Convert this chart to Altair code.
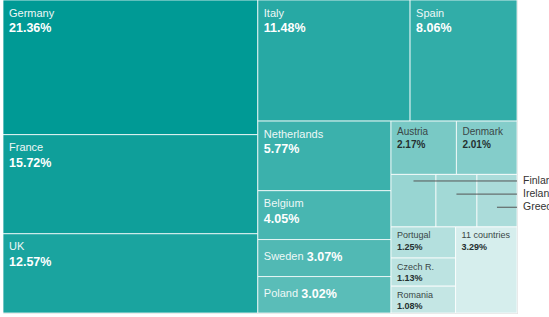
import altair as alt
import pandas as pd

# ---- data -------------------------------------------------------------
countries = ["Germany", "France", "UK", "Italy", "Spain", "Netherlands",
             "Belgium", "Sweden", "Poland", "Austria", "Denmark", "Finland",
             "Ireland", "Greece", "Portugal", "Czech R.", "Romania",
             "11 countries"]
shares = [21.36, 15.72, 12.57, 11.48, 8.06, 5.77, 4.05, 3.07, 3.02, 2.17,
          2.01, 1.47, 1.34, 1.31, 1.25, 1.13, 1.08, 3.29]
labels = ["21.36%", "15.72%", "12.57%", "11.48%", "8.06%", "5.77%", "4.05%",
          "3.07%", "3.02%", "2.17%", "2.01%", "", "", "", "1.25%", "1.13%",
          "1.08%", "3.29%"]

# ---- styles -----------------------------------------------------------
colors = ["#009a95", "#0f9f9a", "#1aa49f", "#27a9a4", "#31ada8", "#3bb1ac",
          "#48b6b1", "#51b9b4", "#5abdb8", "#79c9c5", "#84cdca", "#98d5d2",
          "#a2d9d6", "#abdcda", "#b4e0de", "#bce3e1", "#c4e6e4", "#d6eeed"]

# slice-and-dice structure of the treemap ("h": left-to-right, "v": top-to-bottom)
tree = ("h", [
    ("v", ["Germany", "France", "UK"]),
    ("v", [
        ("h", ["Italy", "Spain"]),
        ("h", [
            ("v", ["Netherlands", "Belgium", "Sweden", "Poland"]),
            ("v", [
                ("h", ["Austria", "Denmark"]),
                ("h", ["Finland", "Ireland", "Greece"]),
                ("h", [("v", ["Portugal", "Czech R.", "Romania"]), "11 countries"]),
            ]),
        ]),
    ]),
])

val = dict(zip(countries, shares))


def size(node):
    if isinstance(node, str):
        return val[node]
    return sum(size(c) for c in node[1])


cells = {}


def place(node, x0, y0, x1, y1):
    if isinstance(node, str):
        cells[node] = (x0, y0, x1, y1)
        return
    orient, kids = node
    tot = sum(size(k) for k in kids)
    pos = x0 if orient == "h" else y0
    for k in kids:
        f = size(k) / tot
        if orient == "h":
            nxt = pos + f * (x1 - x0)
            place(k, pos, y0, nxt, y1)
        else:
            nxt = pos + f * (y1 - y0)
            place(k, x0, pos, x1, nxt)
        pos = nxt


place(tree, 0.0, 0.0, 1.0, 1.0)

rows = []
for i, c in enumerate(countries):
    x0, y0, x1, y1 = cells[c]
    rows.append(dict(name=c, share=shares[i], pct=labels[i],
                     x0=x0, x1=x1, y0=y0, y1=y1,
                     xc=(x0 + x1) / 2, yc=(y0 + y1) / 2))
df = pd.DataFrame(rows)

outside = ["Finland", "Ireland", "Greece"]
for j, c in enumerate(outside):
    r = df.name == c
    df.loc[r, "ly"] = df.loc[r, "y0"] + (2 * j + 1) / 8 * (df.loc[r, "y1"] - df.loc[r, "y0"])
df["right"] = 1.0

xs = alt.Scale(domain=[0, 1], nice=False, zero=False)
ys = alt.Scale(domain=[0, 1], nice=False, zero=False, reverse=True)
FONT = "Liberation Sans"

base = alt.Chart(df)

rects = base.mark_rect(stroke="white", strokeWidth=1, strokeOpacity=0.75).encode(
    x=alt.X("x0:Q", scale=xs, axis=None),
    x2="x1:Q",
    y=alt.Y("y0:Q", scale=ys, axis=None),
    y2="y1:Q",
    color=alt.Color("name:N", scale=alt.Scale(domain=countries, range=colors), legend=None),
)

big = ["Germany", "France", "UK", "Italy", "Spain", "Netherlands", "Belgium"]
mid = ["Austria", "Denmark"]
small = ["Portugal", "Czech R.", "Romania", "11 countries"]


def top_labels(group, nsize, psize, ndy, pdy, ncol, pcol):
    sub = base.transform_filter(alt.FieldOneOfPredicate(field="name", oneOf=group))
    enc = dict(x=alt.X("x0:Q", scale=xs), y=alt.Y("y0:Q", scale=ys))
    n = sub.mark_text(align="left", baseline="alphabetic", dx=6, dy=ndy,
                      font=FONT, fontSize=nsize, color=ncol).encode(text="name:N", **enc)
    p = sub.mark_text(align="left", baseline="alphabetic", dx=6, dy=pdy,
                      font=FONT, fontSize=psize, fontWeight="bold",
                      color=pcol).encode(text="pct:N", **enc)
    return [n, p]


layers = [rects]
layers += top_labels(big, 11, 12.5, 16.5, 32, "#eef8f7", "#ffffff")
layers += top_labels(mid, 10, 10, 14, 27, "#3a4646", "#253030")
layers += top_labels(small, 9, 9, 11.5, 23, "#3a4646", "#253030")

# inline labels (Sweden, Poland)
for c, off in [("Sweden", 43), ("Poland", 37.5)]:
    sub = base.transform_filter(alt.datum.name == c)
    enc = dict(x=alt.X("x0:Q", scale=xs), y=alt.Y("yc:Q", scale=ys))
    layers.append(sub.mark_text(align="left", baseline="middle", dx=6, dy=-1,
                                font=FONT, fontSize=11, color="#eef8f7").encode(text="name:N", **enc))
    layers.append(sub.mark_text(align="left", baseline="middle", dx=6 + off, dy=-1,
                                font=FONT, fontSize=12.5, fontWeight="bold",
                                color="#ffffff").encode(text="pct:N", **enc))

# callouts for the three small cells
out = base.transform_filter(alt.FieldOneOfPredicate(field="name", oneOf=outside))
layers.append(out.mark_rule(color="#555555", strokeWidth=1).encode(
    x=alt.X("xc:Q", scale=xs), x2=alt.X2("right:Q"), y=alt.Y("ly:Q", scale=ys)))
layers.append(out.mark_text(align="left", baseline="middle", dx=6, font=FONT,
                            fontSize=10.5, color="#333333").encode(
    x=alt.X("right:Q", scale=xs), y=alt.Y("ly:Q", scale=ys), text="name:N"))

chart = alt.layer(*layers).properties(
    width=514, height=313,
    autosize=alt.AutoSizeParams(type="none"),
    padding={"left": 3, "top": 0, "right": 32, "bottom": 4},
).configure_view(stroke=None).configure(background="white")

chart.save("out.html", embed_options={"renderer": "svg", "actions": False})
